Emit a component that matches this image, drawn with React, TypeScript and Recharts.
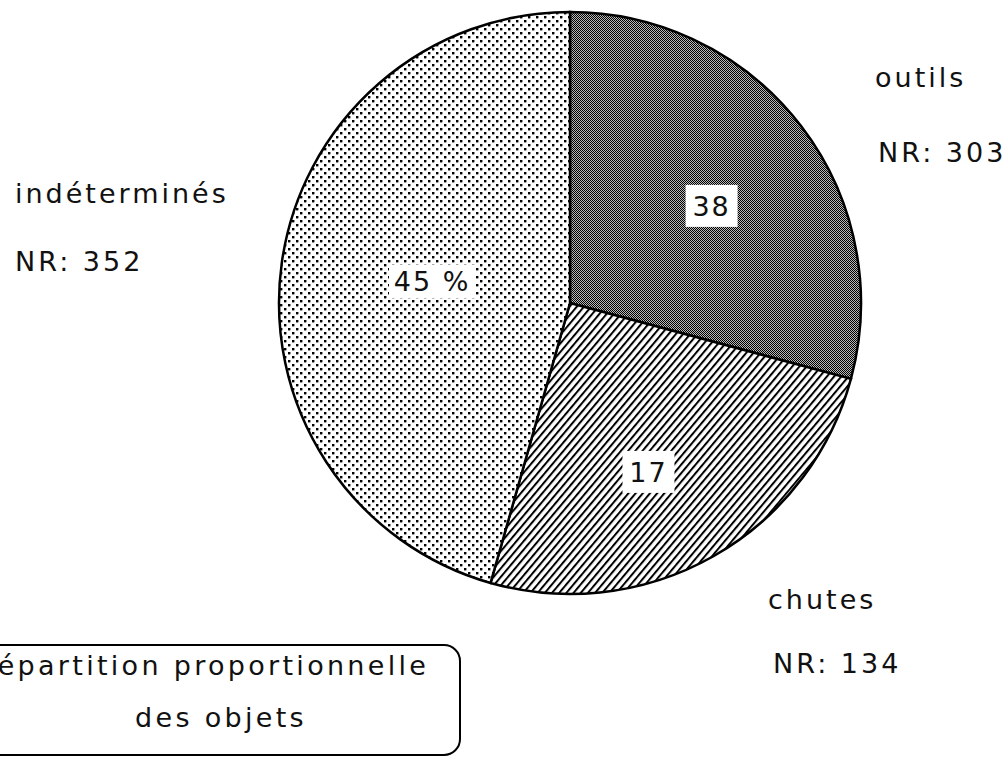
import React from 'react';
import { PieChart, Pie, Cell } from 'recharts';

// ---- data ----
const categories = ['outils', 'chutes', 'indéterminés'];
const nrCounts = [303, 134, 352];
const percentLabels = ['38', '17', '45 %'];
// share of the circle each slice occupies in the drawing (%)
const drawnShares = [29.2, 25.2, 45.6];
const titleLines = ['Répartition proportionnelle', 'des objets'];

const pieData = categories.map((name, i) => ({
  name,
  value: drawnShares[i],
  nr: nrCounts[i],
  pct: percentLabels[i],
}));

// ---- layout / style ----
const W = 1007;
const H = 760;
const FONT = '"DejaVu Sans", sans-serif';
const FS = 27;
const fills = ['url(#patChecker)', 'url(#patHatch)', 'url(#patDots)'];
const labelPolar = [
  { r: 0.59, a: -3 },
  { r: 0.64, a: -4.6 },
  { r: 0.48, a: -1 },
];
const nameAnchors = [
  { x: 875, y: 87, nrX: 878, nrY: 162 },
  { x: 768, y: 609, nrX: 773, nrY: 673 },
  { x: 15, y: 203, nrX: 15, nrY: 271 },
];

const RAD = Math.PI / 180;

const InsideLabel = (props: any) => {
  const { cx, cy, midAngle, outerRadius, index, payload } = props;
  const p = labelPolar[index];
  const ang = midAngle + p.a;
  const r = outerRadius * p.r;
  const x = cx + r * Math.cos(-ang * RAD);
  const y = cy + r * Math.sin(-ang * RAD);
  const txt: string = payload?.pct ?? percentLabels[index];
  const w = txt.length * 17 + 18;
  const h = index === 2 ? 34 : 42;
  return (
    <g>
      <rect x={x - w / 2} y={y - h / 2} width={w} height={h} fill="#fff" />
      <text
        x={x}
        y={y + 10}
        textAnchor="middle"
        fontFamily={FONT}
        fontSize={FS}
        letterSpacing={2}
        fill="#111"
      >
        {txt}
      </text>
    </g>
  );
};

export default function App() {
  return (
    <div style={{ position: 'absolute', left: 0, top: 0, width: W, height: H, background: '#fff' }}>
      <svg width={0} height={0} style={{ position: 'absolute' }}>
        <defs>
          <pattern id="patChecker" width={2} height={2} patternUnits="userSpaceOnUse">
            <rect x={0} y={0} width={2} height={2} fill="#b8b8b8" />
            <rect x={0} y={0} width={1} height={1} fill="#000" />
            <rect x={1} y={1} width={1} height={1} fill="#000" />
          </pattern>
          <pattern
            id="patHatch"
            width={5.5}
            height={5.5}
            patternUnits="userSpaceOnUse"
            patternTransform="rotate(40)"
          >
            <rect x={0} y={0} width={5.5} height={5.5} fill="#fff" />
            <rect x={0} y={0} width={2} height={5.5} fill="#000" />
          </pattern>
          <pattern id="patDots" width={8} height={8} patternUnits="userSpaceOnUse">
            <rect x={0} y={0} width={8} height={8} fill="#fff" />
            <rect x={0} y={0} width={2.4} height={2.4} fill="#000" />
            <rect x={4} y={4} width={2.4} height={2.4} fill="#000" />
          </pattern>
        </defs>
      </svg>
      <PieChart width={W} height={H} margin={{ top: 0, right: 0, bottom: 0, left: 0 }}>
        <Pie
          data={pieData}
          dataKey="value"
          nameKey="name"
          cx={570}
          cy={303}
          outerRadius={291}
          startAngle={90}
          endAngle={-270}
          stroke="#000"
          strokeWidth={2.5}
          label={InsideLabel}
          labelLine={false}
          isAnimationActive={false}
        >
          {pieData.map((d, i) => (
            <Cell key={d.name} fill={fills[i]} stroke="#000" strokeWidth={2.5} />
          ))}
        </Pie>
      </PieChart>
      <svg
        width={W}
        height={H}
        style={{ position: 'absolute', left: 0, top: 0, pointerEvents: 'none' }}
      >
        {pieData.map((d, i) => (
          <g key={d.name} fontFamily={FONT} fontSize={FS} letterSpacing={3} fill="#111">
            <text x={nameAnchors[i].x} y={nameAnchors[i].y}>{d.name}</text>
            <text x={nameAnchors[i].nrX} y={nameAnchors[i].nrY}>{`NR: ${d.nr}`}</text>
          </g>
        ))}
        <rect x={-30} y={645} width={490} height={110} rx={16} ry={16} fill="none" stroke="#000" strokeWidth={2} />
        <text x={203} y={675} textAnchor="middle" fontFamily={FONT} fontSize={FS} letterSpacing={3.3} fill="#111">
          {titleLines[0]}
        </text>
        <text x={221} y={727} textAnchor="middle" fontFamily={FONT} fontSize={FS} letterSpacing={3.3} fill="#111">
          {titleLines[1]}
        </text>
      </svg>
    </div>
  );
}
